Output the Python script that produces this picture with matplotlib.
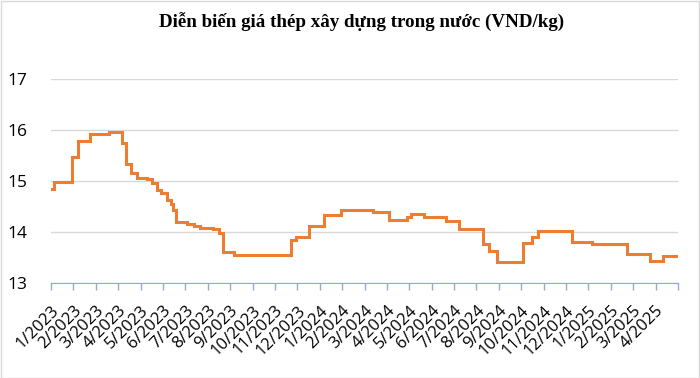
import matplotlib.pyplot as plt

# month offset from 1/2023 where each price level starts, and the price (thousand VND/kg)
step_start = [0.0, 0.13, 0.95, 1.22, 1.74, 2.6, 3.16, 3.35, 3.57, 3.83,
              4.28, 4.5, 4.75, 4.9, 5.17, 5.36, 5.46, 5.59, 6.09, 6.39,
              6.66, 7.25, 7.52, 7.7, 8.18, 10.71, 10.95, 11.5, 12.2, 12.94,
              14.36, 15.1, 15.89, 16.07, 16.67, 17.64, 18.2, 19.27, 19.57, 19.92,
              21.1, 21.48, 21.77, 23.27, 24.16, 25.72, 26.76, 27.31]
price = [14.84, 14.98, 15.48, 15.78, 15.92, 15.97, 15.74, 15.33, 15.15, 15.06,
         15.03, 14.97, 14.82, 14.77, 14.63, 14.55, 14.43, 14.20, 14.16, 14.12,
         14.08, 14.05, 13.99, 13.61, 13.55, 13.84, 13.91, 14.12, 14.34, 14.43,
         14.40, 14.24, 14.30, 14.35, 14.29, 14.22, 14.06, 13.76, 13.63, 13.42,
         13.78, 13.90, 14.01, 13.80, 13.76, 13.56, 13.44, 13.52]
end_month = 28.03

month_labels = ['1/2023', '2/2023', '3/2023', '4/2023', '5/2023', '6/2023', '7/2023',
                '8/2023', '9/2023', '10/2023', '11/2023', '12/2023', '1/2024', '2/2024',
                '3/2024', '4/2024', '5/2024', '6/2024', '7/2024', '8/2024', '9/2024',
                '10/2024', '11/2024', '12/2024', '1/2025', '2/2025', '3/2025', '4/2025']
y_ticks = [13, 14, 15, 16, 17]

plt.rcParams['font.family'] = ['Open Sans', 'DejaVu Sans']

fig = plt.figure(figsize=(7, 3.78), dpi=100)
ax = fig.add_axes([51 / 700, 1 - 283 / 378, (678 - 51) / 700, (283 - 79) / 378])

xs = step_start + [end_month]
ys = price + [price[-1]]
ax.plot(xs, ys, drawstyle='steps-post', color='#ED7D31', lw=2.2, solid_joinstyle='miter')

ax.set_xlim(0, 28)
ax.set_ylim(13, 17)
ax.set_yticks(y_ticks)
ax.set_yticklabels([str(v) for v in y_ticks], fontsize=12.5)
ax.tick_params(axis='y', length=0, pad=17)
ax.grid(axis='y', color='#D9D9D9', lw=1)
ax.set_axisbelow(True)

ax.set_xticks(range(29))
ax.set_xticklabels(month_labels + [''], rotation=45, ha='right',
                   rotation_mode='anchor', fontsize=12)
ax.tick_params(axis='x', direction='out', length=5, color='#8FAADC', width=1, pad=9)

for s in ['top', 'right', 'left']:
    ax.spines[s].set_visible(False)
ax.spines['bottom'].set_color('#8FAADC')

fig.text(0.517, 1 - 22 / 378, 'Diễn biến giá thép xây dựng trong nước (VND/kg)',
         ha='center', va='center', fontsize=13.7, fontweight='bold',
         family='Liberation Serif')

fig.patches.append(plt.Rectangle((0.001, 0.001), 0.997, 0.997, transform=fig.transFigure,
                                 fill=False, edgecolor='#D9D9D9', lw=1))

fig.savefig('out.png', dpi=100)
